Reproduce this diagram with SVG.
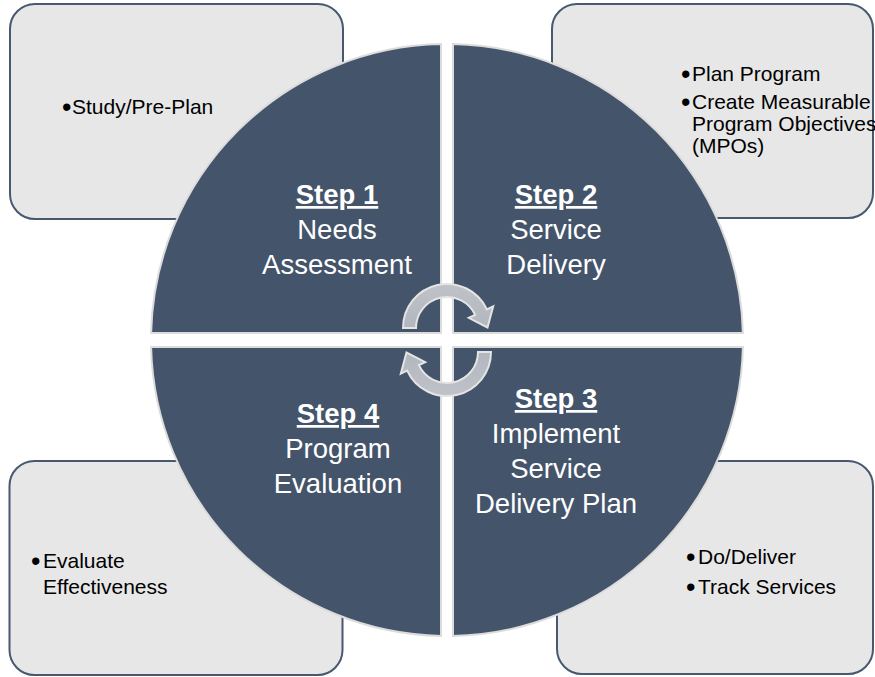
<svg xmlns="http://www.w3.org/2000/svg" width="875" height="677" viewBox="0 0 875 677">
  <defs>
    <style>
      .box { fill: #E7E7E7; stroke: #475870; stroke-width: 2; }
      .quad { fill: #44546A; stroke: #DCDCDC; stroke-width: 2; }
      .note { font-family: "Liberation Sans", Arial, sans-serif; font-size: 21px; fill: #000; }
      .dot { font-family: "Liberation Sans", Arial, sans-serif; font-size: 27px; fill: #000; }
      .step { font-family: "Liberation Sans", Arial, sans-serif; font-size: 27.5px; fill: #FFFFFF; text-anchor: middle; }
      .head { font-weight: bold; text-decoration: underline; }
      .arrow { fill: url(#arrowFill); stroke: #E4E4E4; stroke-width: 2; stroke-linejoin: miter; }
    </style>
    <linearGradient id="arrowFill" x1="0" y1="0" x2="0" y2="1">
      <stop offset="0" stop-color="#BFC2C8"/>
      <stop offset="1" stop-color="#B2B6BE"/>
    </linearGradient>
    <!-- one circular arrow, centred on (447,328), running clockwise from 9 o'clock -->
    <path id="cycleArrow" class="arrow"
      d="M403,328 A44,44 0 0 1 486.9,309.4 L493.2,306.4 L487.5,327.5 L468.75,317.9 L475.1,314.9 A31,31 0 0 0 416,328 Z"/>
  </defs>

  <rect width="875" height="677" fill="#FFFFFF"/>

  <!-- corner note panels -->
  <g id="note-1">
    <rect class="box" x="10" y="4" width="333" height="215" rx="25"/>
    <text class="dot" x="62" y="116">•</text>
    <text class="note" x="72" y="114">Study/Pre-Plan</text>
  </g>
  <g id="note-2">
    <rect class="box" x="552" y="4" width="321" height="214" rx="25"/>
    <text class="dot" x="681" y="83">•</text>
    <text class="note" x="692" y="81">Plan Program</text>
    <text class="dot" x="681" y="111">•</text>
    <text class="note" x="692" y="109">Create Measurable</text>
    <text class="note" x="692" y="131">Program Objectives</text>
    <text class="note" x="692" y="153">(MPOs)</text>
  </g>
  <g id="note-4">
    <rect class="box" x="9.5" y="461" width="333" height="214" rx="25"/>
    <text class="dot" x="31" y="570">•</text>
    <text class="note" x="43" y="568">Evaluate</text>
    <text class="note" x="43" y="594">Effectiveness</text>
  </g>
  <g id="note-3">
    <rect class="box" x="557" y="461" width="316" height="213" rx="25"/>
    <text class="dot" x="686" y="566">•</text>
    <text class="note" x="698" y="564">Do/Deliver</text>
    <text class="dot" x="686" y="596">•</text>
    <text class="note" x="698" y="594">Track Services</text>
  </g>

  <!-- circle quadrants -->
  <g id="step-1">
    <path class="quad" d="M441,333 L151.1,333 A296,296 0 0 1 441,44.1 Z"/>
    <text class="step" x="337" y="204"><tspan class="head">Step 1</tspan></text>
    <text class="step" x="337" y="239">Needs</text>
    <text class="step" x="337" y="274">Assessment</text>
  </g>
  <g id="step-2">
    <path class="quad" d="M453,333 L453,44.1 A296,296 0 0 1 742.9,333 Z"/>
    <text class="step" x="556" y="204"><tspan class="head">Step 2</tspan></text>
    <text class="step" x="556" y="239">Service</text>
    <text class="step" x="556" y="274">Delivery</text>
  </g>
  <g id="step-3">
    <path class="quad" d="M453,347 L742.9,347 A296,296 0 0 1 453,635.9 Z"/>
    <text class="step" x="556" y="408"><tspan class="head">Step 3</tspan></text>
    <text class="step" x="556" y="443">Implement</text>
    <text class="step" x="556" y="478">Service</text>
    <text class="step" x="556" y="513">Delivery Plan</text>
  </g>
  <g id="step-4">
    <path class="quad" d="M441,347 L441,635.9 A296,296 0 0 1 151.1,347 Z"/>
    <text class="step" x="338" y="423"><tspan class="head">Step 4</tspan></text>
    <text class="step" x="338" y="458">Program</text>
    <text class="step" x="338" y="493">Evaluation</text>
  </g>

  <!-- cycle arrows in the middle -->
  <g id="connectors">
    <use href="#cycleArrow"/>
    <use href="#cycleArrow" transform="rotate(180 447 340)"/>
  </g>
</svg>
